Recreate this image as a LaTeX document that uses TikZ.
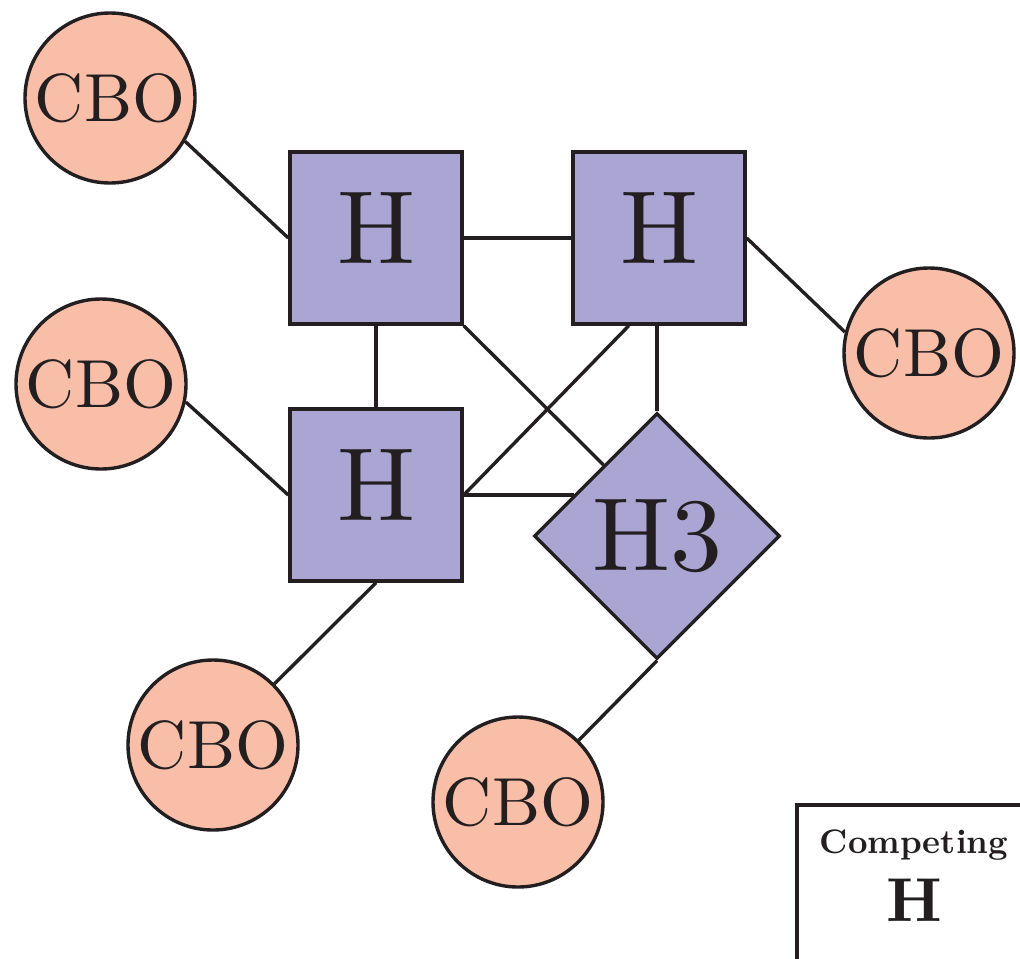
\documentclass[tikz,border=0pt]{standalone}
\usepackage{fontspec}
\setmainfont{lmroman10-regular}[Extension=.otf,BoldFont=lmroman10-bold]
\usetikzlibrary{shapes.geometric}
\definecolor{hfill}{HTML}{AAA5D2}
\definecolor{cfill}{HTML}{F9BEA8}
\definecolor{ink}{HTML}{231F20}
\begin{document}
\begin{tikzpicture}[x=0.5pt,y=-0.5pt,
  hbox/.style={draw=ink,fill=hfill,line width=1.7pt,minimum size=86pt,inner sep=0pt,text depth=10pt,text=ink,font=\fontsize{52}{60}\selectfont},
  hdiam/.style={diamond,draw=ink,fill=hfill,line width=1.7pt,minimum width=123pt,minimum height=123pt,aspect=1,inner sep=0pt,text=ink,font=\fontsize{52}{60}\selectfont},
  cbo/.style={circle,draw=ink,fill=cfill,line width=1.7pt,minimum size=85pt,inner sep=0pt,text=ink,font=\fontsize{34}{40}\selectfont},
  link/.style={draw=ink,line width=1.7pt}]
\useasboundingbox (0,0) rectangle (1020,958);
\node[hbox] (h1) at (376,238) {H};
\node[hbox] (h2) at (659,238) {H};
\node[hbox] (h3) at (376,495) {H};
\node[hdiam] (d) at (657,536) {H3};
\node[cbo] (c1) at (110,98) {CBO};
\node[cbo] (c2) at (101,384) {CBO};
\node[cbo] (c3) at (929,353) {CBO};
\node[cbo] (c4) at (213,745) {CBO};
\node[cbo] (c5) at (518,802) {CBO};
\path[link] (c1.-30) -- (h1.west);
\path[link] (h1.east) -- (h2.west);
\path[link] (h1.south) -- (h3.north);
\path[link] (h1.south east) -- (d.127);
\path[link] (h2.251.4) -- (h3.east);
\path[link] (d.north) -- (d.north |- h2.south);
\path[link] (h3.east) -- (h3.east -| d.153.7);
\path[link] (h2.east) -- (c3.166);
\path[link] (c2.-12) -- (h3.west);
\path[link] (h3.south) -- (c4);
\path[link] (d.south) -- (c5);
% legend
\begin{scope}
\clip (0,0) rectangle (1020,958);
\draw[ink,line width=1.7pt] (797,980) -- (797,805) -- (1040,805);
\end{scope}
\node[text=ink,font=\bfseries\fontsize{17}{20}\selectfont] (lt) at (914,845) {Competing};
\node[text=ink,font=\bfseries\fontsize{31}{36}\selectfont] (lh) at (914,900) {H};
\end{tikzpicture}
\end{document}
